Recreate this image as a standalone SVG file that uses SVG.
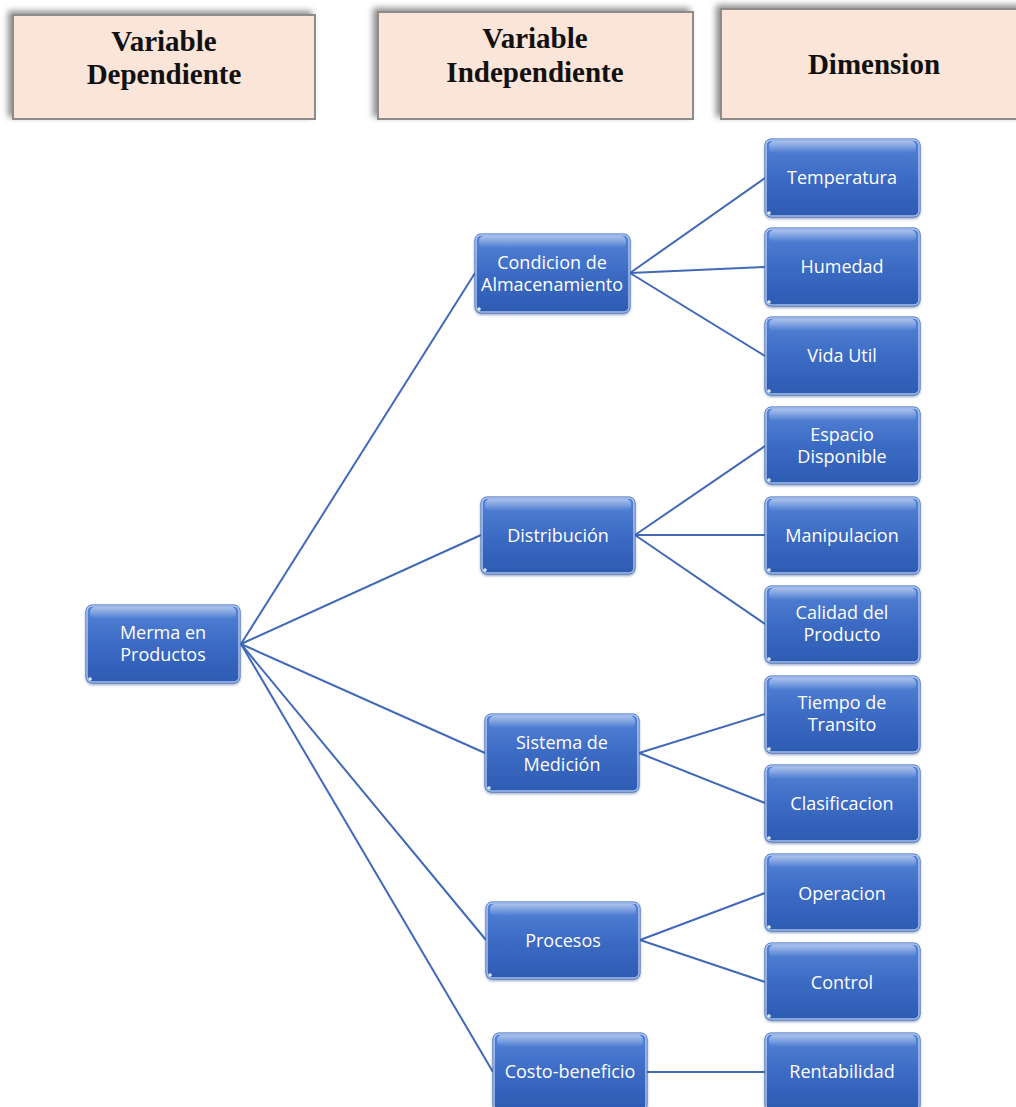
<svg xmlns="http://www.w3.org/2000/svg" width="1016" height="1107" viewBox="0 0 1016 1107">
  <defs>
    <linearGradient id="blueFill" x1="0" y1="0" x2="0" y2="1">
      <stop offset="0" stop-color="#5584D8"/>
      <stop offset="0.5" stop-color="#3C6BC4"/>
      <stop offset="1" stop-color="#2D5BB2"/>
    </linearGradient>
    <linearGradient id="gloss" x1="0" y1="0" x2="0" y2="1">
      <stop offset="0" stop-color="#FFFFFF" stop-opacity="0.5"/>
      <stop offset="1" stop-color="#FFFFFF" stop-opacity="0"/>
    </linearGradient>
    <filter id="headShadow" x="-10%" y="-20%" width="120%" height="140%">
      <feDropShadow dx="-4" dy="-3" stdDeviation="3" flood-color="#000000" flood-opacity="0.45"/>
    </filter>
    <filter id="nodeShadow" x="-10%" y="-10%" width="120%" height="130%">
      <feDropShadow dx="0" dy="1.5" stdDeviation="1.2" flood-color="#1F3C78" flood-opacity="0.45"/>
    </filter>
  </defs>
  <style>
    .head rect { fill: #FBE5D8; stroke: #8C8C8C; stroke-width: 2; filter: url(#headShadow); }
    .head text { font-family: "Liberation Serif", "Times New Roman", serif; font-weight: bold; font-size: 29px; fill: #111111; text-anchor: middle; }
    .node .body { fill: url(#blueFill); stroke: #3A63B0; stroke-width: 1; filter: url(#nodeShadow); }
    .node .shine { fill: url(#gloss); }
    .node .rim { fill: none; stroke: #CFE0FF; stroke-width: 1.5; stroke-opacity: 0.75; }
    .node .dot { fill: #DCE8FF; }
    .node text { font-family: "Open Sans", "Noto Sans", sans-serif; font-size: 18px; fill: #FFFFFF; text-anchor: middle; }
    .links line { stroke: #4169B8; stroke-width: 2; }
  </style>

  <rect width="1016" height="1107" fill="#FFFFFF"/>

  <!-- column headers -->
  <g id="hdr-dependiente" class="head">
    <rect x="13" y="15" width="302" height="104"/>
    <text x="164" y="51">Variable</text>
    <text x="164" y="84">Dependiente</text>
  </g>
  <g id="hdr-independiente" class="head">
    <rect x="378" y="12" width="315" height="107"/>
    <text x="535" y="48">Variable</text>
    <text x="535" y="82">Independiente</text>
  </g>
  <g id="hdr-dimension" class="head">
    <rect x="721" y="9" width="320" height="110"/>
    <text x="874" y="74">Dimension</text>
  </g>

  <!-- connectors -->
  <g id="connectors" class="links">
    <line x1="241" y1="644" x2="475" y2="273"/>
    <line x1="241" y1="644" x2="481" y2="535"/>
    <line x1="241" y1="644" x2="485" y2="753"/>
    <line x1="241" y1="644" x2="486" y2="940"/>
    <line x1="241" y1="644" x2="493" y2="1072"/>

    <line x1="630" y1="273" x2="765" y2="178"/>
    <line x1="630" y1="273" x2="765" y2="267"/>
    <line x1="630" y1="273" x2="765" y2="356"/>

    <line x1="635" y1="535" x2="765" y2="446"/>
    <line x1="635" y1="535" x2="765" y2="535"/>
    <line x1="635" y1="535" x2="765" y2="624"/>

    <line x1="639" y1="753" x2="765" y2="714"/>
    <line x1="639" y1="753" x2="765" y2="803"/>

    <line x1="640" y1="940" x2="765" y2="893"/>
    <line x1="640" y1="940" x2="765" y2="982"/>

    <line x1="647" y1="1072" x2="765" y2="1072"/>
  </g>

  <!-- root -->
  <g id="n-merma" class="node">
    <rect class="body" x="86" y="605" width="154" height="78" rx="6"/>
    <rect class="shine" x="90" y="607" width="146" height="12" rx="5"/>
    <rect class="rim" x="87" y="606" width="152" height="76" rx="5"/>
    <circle class="dot" cx="90" cy="679" r="1.8"/>
    <text x="163" y="639">Merma en</text>
    <text x="163" y="661">Productos</text>
  </g>

  <!-- independent variables -->
  <g id="n-condicion" class="node">
    <rect class="body" x="475" y="234" width="155" height="79" rx="6"/>
    <rect class="shine" x="479" y="236" width="147" height="12" rx="5"/>
    <rect class="rim" x="476" y="235" width="153" height="77" rx="5"/>
    <circle class="dot" cx="479" cy="309" r="1.8"/>
    <text x="552" y="269">Condicion de</text>
    <text x="552" y="291">Almacenamiento</text>
  </g>
  <g id="n-distribucion" class="node">
    <rect class="body" x="481" y="497" width="154" height="77" rx="6"/>
    <rect class="shine" x="485" y="499" width="146" height="12" rx="5"/>
    <rect class="rim" x="482" y="498" width="152" height="75" rx="5"/>
    <circle class="dot" cx="485" cy="570" r="1.8"/>
    <text x="558" y="542">Distribución</text>
  </g>
  <g id="n-sistema" class="node">
    <rect class="body" x="485" y="714" width="154" height="78" rx="6"/>
    <rect class="shine" x="489" y="716" width="146" height="12" rx="5"/>
    <rect class="rim" x="486" y="715" width="152" height="76" rx="5"/>
    <circle class="dot" cx="489" cy="788" r="1.8"/>
    <text x="562" y="749">Sistema de</text>
    <text x="562" y="771">Medición</text>
  </g>
  <g id="n-procesos" class="node">
    <rect class="body" x="486" y="902" width="154" height="77" rx="6"/>
    <rect class="shine" x="490" y="904" width="146" height="12" rx="5"/>
    <rect class="rim" x="487" y="903" width="152" height="75" rx="5"/>
    <circle class="dot" cx="490" cy="975" r="1.8"/>
    <text x="563" y="947">Procesos</text>
  </g>
  <g id="n-costo" class="node">
    <rect class="body" x="493" y="1033" width="154" height="78" rx="6"/>
    <rect class="shine" x="497" y="1035" width="146" height="12" rx="5"/>
    <rect class="rim" x="494" y="1034" width="152" height="76" rx="5"/>
    <text x="570" y="1078">Costo-beneficio</text>
  </g>

  <!-- dimensions -->
  <g id="n-temperatura" class="node">
    <rect class="body" x="765" y="139" width="155" height="78" rx="6"/>
    <rect class="shine" x="769" y="141" width="147" height="12" rx="5"/>
    <rect class="rim" x="766" y="140" width="153" height="76" rx="5"/>
    <circle class="dot" cx="769" cy="213" r="1.8"/>
    <text x="842" y="184">Temperatura</text>
  </g>
  <g id="n-humedad" class="node">
    <rect class="body" x="765" y="228" width="155" height="78" rx="6"/>
    <rect class="shine" x="769" y="230" width="147" height="12" rx="5"/>
    <rect class="rim" x="766" y="229" width="153" height="76" rx="5"/>
    <circle class="dot" cx="769" cy="302" r="1.8"/>
    <text x="842" y="273">Humedad</text>
  </g>
  <g id="n-vida" class="node">
    <rect class="body" x="765" y="317" width="155" height="78" rx="6"/>
    <rect class="shine" x="769" y="319" width="147" height="12" rx="5"/>
    <rect class="rim" x="766" y="318" width="153" height="76" rx="5"/>
    <circle class="dot" cx="769" cy="391" r="1.8"/>
    <text x="842" y="362">Vida Util</text>
  </g>
  <g id="n-espacio" class="node">
    <rect class="body" x="765" y="407" width="155" height="77" rx="6"/>
    <rect class="shine" x="769" y="409" width="147" height="12" rx="5"/>
    <rect class="rim" x="766" y="408" width="153" height="75" rx="5"/>
    <circle class="dot" cx="769" cy="480" r="1.8"/>
    <text x="842" y="441">Espacio</text>
    <text x="842" y="463">Disponible</text>
  </g>
  <g id="n-manipulacion" class="node">
    <rect class="body" x="765" y="497" width="155" height="77" rx="6"/>
    <rect class="shine" x="769" y="499" width="147" height="12" rx="5"/>
    <rect class="rim" x="766" y="498" width="153" height="75" rx="5"/>
    <circle class="dot" cx="769" cy="570" r="1.8"/>
    <text x="842" y="542">Manipulacion</text>
  </g>
  <g id="n-calidad" class="node">
    <rect class="body" x="765" y="586" width="155" height="77" rx="6"/>
    <rect class="shine" x="769" y="588" width="147" height="12" rx="5"/>
    <rect class="rim" x="766" y="587" width="153" height="75" rx="5"/>
    <circle class="dot" cx="769" cy="659" r="1.8"/>
    <text x="842" y="619">Calidad del</text>
    <text x="842" y="641">Producto</text>
  </g>
  <g id="n-tiempo" class="node">
    <rect class="body" x="765" y="676" width="155" height="77" rx="6"/>
    <rect class="shine" x="769" y="678" width="147" height="12" rx="5"/>
    <rect class="rim" x="766" y="677" width="153" height="75" rx="5"/>
    <circle class="dot" cx="769" cy="749" r="1.8"/>
    <text x="842" y="709">Tiempo de</text>
    <text x="842" y="731">Transito</text>
  </g>
  <g id="n-clasificacion" class="node">
    <rect class="body" x="765" y="765" width="155" height="77" rx="6"/>
    <rect class="shine" x="769" y="767" width="147" height="12" rx="5"/>
    <rect class="rim" x="766" y="766" width="153" height="75" rx="5"/>
    <circle class="dot" cx="769" cy="838" r="1.8"/>
    <text x="842" y="810">Clasificacion</text>
  </g>
  <g id="n-operacion" class="node">
    <rect class="body" x="765" y="854" width="155" height="77" rx="6"/>
    <rect class="shine" x="769" y="856" width="147" height="12" rx="5"/>
    <rect class="rim" x="766" y="855" width="153" height="75" rx="5"/>
    <circle class="dot" cx="769" cy="927" r="1.8"/>
    <text x="842" y="900">Operacion</text>
  </g>
  <g id="n-control" class="node">
    <rect class="body" x="765" y="943" width="155" height="77" rx="6"/>
    <rect class="shine" x="769" y="945" width="147" height="12" rx="5"/>
    <rect class="rim" x="766" y="944" width="153" height="75" rx="5"/>
    <circle class="dot" cx="769" cy="1016" r="1.8"/>
    <text x="842" y="989">Control</text>
  </g>
  <g id="n-rentabilidad" class="node">
    <rect class="body" x="765" y="1033" width="155" height="78" rx="6"/>
    <rect class="shine" x="769" y="1035" width="147" height="12" rx="5"/>
    <rect class="rim" x="766" y="1034" width="153" height="76" rx="5"/>
    <text x="842" y="1078">Rentabilidad</text>
  </g>
</svg>
